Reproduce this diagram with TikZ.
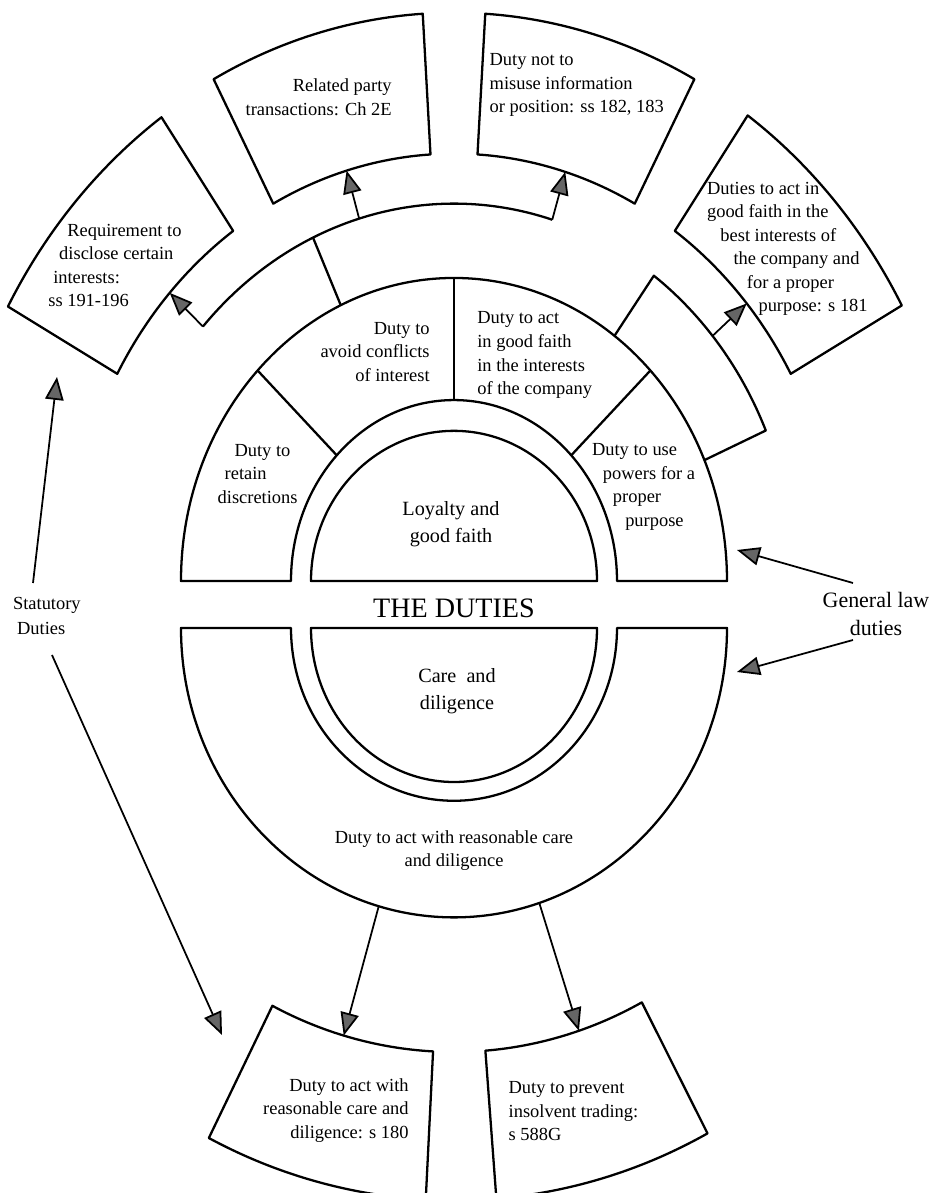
\documentclass[tikz,border=0pt]{standalone}
\usepackage{fontspec}
\setmainfont{Liberation Serif}
\usetikzlibrary{arrows.meta}

\begin{document}
\begin{tikzpicture}[x=0.02cm, y=0.02cm]
\tikzstyle{shp}=[draw, line width=1.3pt, fill=white, line join=round]
\tikzstyle{ln}=[draw, line width=1.3pt, line join=round]
\tikzstyle{arr}=[draw, line width=1pt, -{Triangle[length=13pt, width=10.5pt, fill=black!60]}]
\tikzstyle{txt}=[inner sep=0pt, font=\fontsize{10.5}{13.4}\selectfont]
\tikzstyle{big}=[inner sep=0pt, font=\fontsize{11.5}{15.3}\selectfont, align=center]
\useasboundingbox (-454,-612) rectangle (481,581);
\clip (-454,-612) rectangle (481,581);
\begin{scope}[yscale=1.11]
\draw[shp] (180:273) arc[start angle=180, end angle=0, radius=273] -- (0:163) arc[start angle=0, end angle=180, radius=163] -- cycle;
\draw[ln] (136:163) -- (136:273);
\draw[ln] (90:163) -- (90:273);
\draw[ln] (44:163) -- (44:273);
\draw[ln] (114.5:273) -- (114.5:340);
\draw[ln] (137.6:340) arc[start angle=137.6, end angle=73.2, radius=340];
\draw[ln] (54:273) -- (54:340) arc[start angle=54, end angle=23.5, radius=340] -- (23.5:273);
\draw[shp] (125:385) arc[start angle=125, end angle=151, radius=385] -- (151:510) arc[start angle=151, end angle=125, radius=510] -- cycle;
\draw[shp] (93.5:385) arc[start angle=93.5, end angle=118, radius=385] -- (118:512) arc[start angle=118, end angle=93.5, radius=512] -- cycle;
\draw[shp] (62:385) arc[start angle=62, end angle=86.5, radius=385] -- (86.5:512) arc[start angle=86.5, end angle=62, radius=512] -- cycle;
\draw[shp] (29:385) arc[start angle=29, end angle=55, radius=385] -- (55:512) arc[start angle=55, end angle=29, radius=512] -- cycle;
\coordinate (reqfoot) at (137.6:340); \coordinate (reqtip) at (137.6:385);
\coordinate (relfoot) at (106.2:340); \coordinate (reltip) at (106.2:385);
\coordinate (misfoot) at (73.2:340); \coordinate (mistip) at (73.2:385);
\coordinate (gffoot) at (40.5:340); \coordinate (gftip) at (40.5:385);
\end{scope}
\begin{scope}[yscale=1.05]
\draw[shp] (180:143) arc[start angle=180, end angle=0, radius=143] -- cycle;
\end{scope}
\begin{scope}[shift={(0,-47)}, yscale=1.06]
\draw[shp] (180:273) arc[start angle=180, end angle=360, radius=273] -- (0:163) arc[start angle=360, end angle=180, radius=163] -- cycle;
\draw[shp] (243:400) arc[start angle=243, end angle=267, radius=400] -- (267:540) arc[start angle=267, end angle=243, radius=540] -- cycle;
\draw[shp] (274.5:400) arc[start angle=274.5, end angle=298, radius=400] -- (298:540) arc[start angle=298, end angle=274.5, radius=540] -- cycle;
\coordinate (cfoot1) at (254:273); \coordinate (ctip1) at (254:400);
\coordinate (cfoot2) at (288.2:273); \coordinate (ctip2) at (288.2:400);
\end{scope}
\begin{scope}[shift={(0,-47)}, yscale=1.077]
\draw[shp] (180:143) arc[start angle=180, end angle=360, radius=143] -- cycle;
\end{scope}
\node[txt, anchor=west, align=left] (req) at (-406,315.5) {\hspace*{10.8pt}Requirement to\\\hspace*{6.2pt}disclose certain\\\hspace*{2.8pt}interests:\\ss 191-196};
\node[txt, anchor=east, align=right] (related) at (-62,483.5) {Related party\\transactions: Ch 2E};
\node[txt, anchor=west, align=left] (misuse) at (35.3,496) {Duty not to\\misuse information\\or position: ss 182, 183};
\node[txt, anchor=west, align=left] (s181) at (252.7,332.2) {Duties to act in\\good faith in the\\\hspace*{7.6pt}best interests of\\\hspace*{15.1pt}the company and\\\hspace*{22.7pt}for a proper\\\hspace*{29.3pt}purpose: s 181};
\node[txt, anchor=west, align=left] (retain) at (-236.7,107.3) {\hspace*{9.6pt}Duty to\\\hspace*{4pt}retain\\discretions};
\node[txt, anchor=east, align=right] (avoid) at (-24,229.3) {Duty to\\avoid conflicts\\of interest};
\node[txt, anchor=west, align=left] (faith) at (23,225.8) {Duty to act\\in good faith\\in the interests\\of the company};
\node[txt, anchor=west, align=left] (powers) at (137.7,94) {Duty to use\\\hspace*{6.2pt}powers for a\\\hspace*{11.9pt}proper\\\hspace*{18.9pt}purpose};
\node[big] (loyal) at (-3,56.5) {Loyalty and\\good faith};
\node[inner sep=0pt, font=\fontsize{16}{19}\selectfont] (duties) at (0,-27) {THE DUTIES};
\node[big] (care) at (3,-110.5) {Care\ \ and\\diligence};
\node[txt, align=center] (reason) at (0,-269.5) {Duty to act with reasonable care\\and diligence};
\node[txt, anchor=east, align=right] (s180) at (-45,-529.5) {Duty to act with\\reasonable care and\\diligence: s 180};
\node[txt, anchor=west, align=left] (s588) at (54.3,-530.5) {Duty to prevent\\insolvent trading:\\s 588G};
\node[inner sep=0pt, font=\fontsize{10.5}{13.8}\selectfont, anchor=west, align=left] (stat) at (-441.3,-35) {Statutory\\\hspace*{2.3pt}Duties};
\node[inner sep=0pt, font=\fontsize{12.5}{15.5}\selectfont, align=center] (genlaw) at (422,-33) {General law\\duties};
\coordinate (statup) at (-421,-2); \coordinate (statuptip) at (-397,204);
\coordinate (statdn) at (-402,-74); \coordinate (statdntip) at (-232,-454);
\coordinate (glup) at (399,-2); \coordinate (gluptip) at (283,31);
\coordinate (gldn) at (399,-59); \coordinate (gldntip) at (283,-91);
\draw[arr] (reqfoot) -- (reqtip);
\draw[arr] (relfoot) -- (reltip);
\draw[arr] (misfoot) -- (mistip);
\draw[arr] (gffoot) -- (gftip);
\draw[arr] (cfoot1) -- (ctip1);
\draw[arr] (cfoot2) -- (ctip2);
\draw[arr] (statup) -- (statuptip);
\draw[arr] (statdn) -- (statdntip);
\draw[arr] (glup) -- (gluptip);
\draw[arr] (gldn) -- (gldntip);
\end{tikzpicture}
\end{document}
